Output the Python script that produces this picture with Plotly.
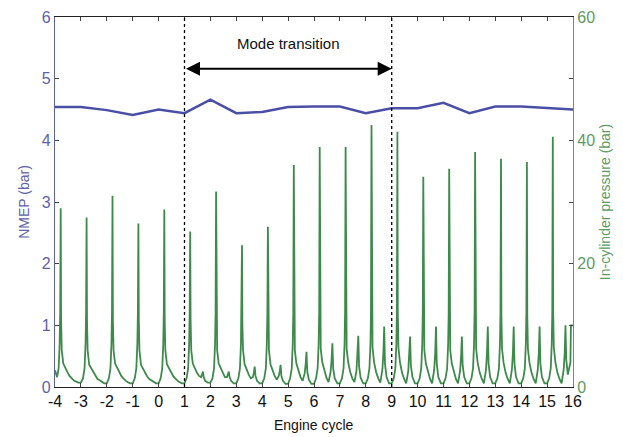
import plotly.graph_objects as go

# ---------------- data ----------------
cycles = list(range(-4, 17))
nmep = [4.54, 4.54, 4.49, 4.41, 4.50, 4.44, 4.66, 4.44, 4.46, 4.54, 4.55,
        4.55, 4.44, 4.52, 4.52, 4.61, 4.44, 4.55, 4.55, 4.52, 4.50]

# sample positions inside each engine cycle (fraction of a cycle)
cycle_offsets = [0.00, 0.08, 0.14, 0.18, 0.20, 0.22, 0.235, 0.26, 0.32, 0.40,
                 0.48, 0.56, 0.64, 0.68, 0.71, 0.74, 0.80, 0.90]

# in-cylinder pressure (bar) at those positions, one row per cycle -4 .. 15
p_m4 = [2.7, 1.6, 3.0, 7.0, 12.0, 29.0, 11.0, 6.0, 3.8, 3.0, 2.4, 1.8, 1.4, 1.2, 1.1, 1.0, 0.9, 0.7]
p_m3 = [0.7, 1.4, 3.0, 7.0, 12.0, 27.5, 11.0, 6.0, 3.6, 3.0, 2.3, 1.7, 1.3, 1.2, 1.1, 1.0, 0.8, 0.6]
p_m2 = [0.6, 1.4, 3.0, 7.0, 12.0, 31.0, 11.0, 6.0, 3.8, 3.1, 2.3, 1.8, 1.4, 1.2, 1.1, 1.0, 0.8, 0.6]
p_m1 = [0.6, 1.4, 3.0, 7.0, 12.0, 26.5, 11.0, 6.0, 3.6, 2.9, 2.2, 1.7, 1.3, 1.2, 1.1, 1.0, 0.8, 0.6]
p_0 = [0.6, 1.4, 3.0, 7.0, 12.0, 28.8, 11.0, 6.0, 3.7, 3.0, 2.3, 1.8, 1.4, 1.2, 1.1, 1.0, 0.8, 0.6]
p_1 = [0.6, 1.4, 3.0, 7.0, 12.0, 25.2, 11.0, 6.0, 3.8, 3.0, 2.3, 1.8, 1.6, 2.0, 2.5, 1.6, 1.0, 0.7]
p_2 = [0.7, 1.4, 3.0, 7.0, 12.0, 31.7, 11.0, 6.0, 3.8, 3.0, 2.3, 1.6, 1.6, 2.0, 2.5, 1.6, 1.0, 0.6]
p_3 = [0.6, 1.4, 3.0, 7.0, 12.0, 23.0, 10.0, 6.0, 3.7, 2.8, 2.0, 1.4, 1.6, 2.4, 3.3, 1.8, 1.0, 0.6]
p_4 = [0.6, 1.4, 3.0, 7.0, 12.0, 26.0, 11.0, 6.0, 3.7, 2.6, 1.8, 1.2, 1.8, 2.6, 3.6, 1.8, 1.0, 0.5]
p_5 = [0.5, 1.4, 3.0, 7.0, 12.0, 36.0, 11.0, 6.0, 3.8, 2.5, 1.6, 1.0, 2.2, 3.8, 5.7, 2.5, 1.2, 0.5]
p_6 = [0.5, 1.4, 3.0, 7.0, 12.0, 38.9, 11.5, 6.2, 4.0, 2.5, 1.5, 0.8, 2.4, 4.5, 7.1, 3.0, 1.4, 0.6]
p_7 = [0.6, 1.4, 3.0, 7.0, 12.0, 38.9, 11.5, 6.2, 4.0, 2.4, 1.4, 0.8, 2.6, 5.0, 8.3, 3.4, 1.5, 0.6]
p_8 = [0.6, 1.4, 3.0, 7.0, 12.0, 42.5, 12.0, 6.4, 4.0, 2.4, 1.4, 0.7, 2.8, 5.5, 9.8, 3.8, 1.6, 0.6]
p_9 = [0.6, 1.4, 3.0, 7.0, 12.0, 41.4, 12.0, 6.4, 4.0, 2.3, 1.3, 0.6, 2.6, 5.0, 8.2, 3.5, 1.6, 0.6]
p_10 = [0.6, 1.4, 3.0, 7.0, 12.0, 34.1, 11.0, 6.0, 3.8, 2.3, 1.3, 0.6, 2.8, 5.5, 9.8, 3.8, 1.6, 0.6]
p_11 = [0.6, 1.4, 3.0, 7.0, 12.0, 35.4, 11.0, 6.0, 3.8, 2.3, 1.3, 0.6, 2.6, 5.0, 8.2, 3.5, 1.6, 0.6]
p_12 = [0.6, 1.4, 3.0, 7.0, 12.0, 38.1, 11.5, 6.2, 3.9, 2.3, 1.3, 0.6, 2.8, 5.5, 9.8, 3.8, 1.6, 0.6]
p_13 = [0.6, 1.4, 3.0, 7.0, 12.0, 37.0, 11.5, 6.2, 3.9, 2.3, 1.3, 0.6, 2.8, 5.5, 9.8, 3.8, 1.6, 0.6]
p_14 = [0.6, 1.4, 3.0, 7.0, 12.0, 36.5, 11.5, 6.2, 3.9, 2.3, 1.3, 0.6, 2.8, 5.5, 9.8, 3.8, 1.6, 0.6]
p_15 = [0.6, 1.4, 3.0, 7.0, 12.0, 40.6, 12.0, 6.4, 4.0, 2.3, 1.3, 0.6, 2.8, 5.5, 10.0, 4.4, 2.0, 4.0]
pressure_rows = [p_m4, p_m3, p_m2, p_m1, p_0, p_1, p_2, p_3, p_4, p_5,
                 p_6, p_7, p_8, p_9, p_10, p_11, p_12, p_13, p_14, p_15]
tail_x = [15.92, 16.0]
tail_p = [10.0, 10.0]

transition_start = 1
transition_end = 9
x_ticks = list(range(-4, 17))
x_labels = [str(v) for v in x_ticks]          # plain hyphen minus, as in the source
left_ticks = [0, 1, 2, 3, 4, 5, 6]
right_ticks = [0, 10, 20, 30, 40, 50, 60]
right_labels = ["0", "", "20", "", "40", "", "60"]

# ---------------- build trace ----------------
px, py = [], []
for c, row in zip(range(-4, 16), pressure_rows):
    for o, v in zip(cycle_offsets, row):
        px.append(c + o)
        py.append(v)
px += tail_x
py += tail_p

BLUE = "#4a4fa6"
GREEN = "#3d8a4b"
BLUE_TXT = "#5e62a8"
GREEN_TXT = "#5f9a62"
FONT = "Liberation Sans, Arial, sans-serif"

fig = go.Figure()
fig.add_trace(go.Scatter(x=px, y=py, yaxis="y2", mode="lines",
                         line=dict(color=GREEN, width=1.8), showlegend=False))
fig.add_trace(go.Scatter(x=cycles, y=nmep, mode="lines",
                         line=dict(color=BLUE, width=2.5), showlegend=False))

for xv in (transition_start, transition_end):
    fig.add_shape(type="line", x0=xv, x1=xv, y0=0, y1=6, xref="x", yref="y",
                  line=dict(color="black", width=1.3, dash="dot"))

fig.add_annotation(x=transition_end, y=5.16, ax=transition_start, ay=5.16,
                   xref="x", yref="y", axref="x", ayref="y", text="",
                   showarrow=True, arrowhead=2, arrowside="end+start",
                   arrowsize=1.4, arrowwidth=2, arrowcolor="black")
fig.add_annotation(x=(transition_start + transition_end) / 2, y=5.57,
                   xref="x", yref="y", text="Mode transition", showarrow=False,
                   font=dict(size=15, color="#111111", family=FONT))
# x-axis title placed below tick labels
fig.add_annotation(x=0.5, y=-0.103, xref="paper", yref="paper",
                   text="Engine cycle", showarrow=False, yanchor="middle",
                   font=dict(size=14, color="#111111", family=FONT))

fig.update_layout(
    width=623, height=437,
    margin=dict(l=55, r=50, t=17, b=50, autoexpand=False),
    paper_bgcolor="white", plot_bgcolor="white",
    font=dict(family=FONT, size=15, color="#111111"),
    xaxis=dict(range=[-4, 16], tickvals=x_ticks, ticktext=x_labels,
               ticks="inside", ticklen=4, automargin=False,
               showline=True, linecolor="#222222", linewidth=1.2,
               mirror="ticks", showgrid=False, zeroline=False,
               tickfont=dict(size=16, color="#111111")),
    yaxis=dict(range=[0, 6], tickvals=left_ticks, ticks="inside", ticklen=4,
               showline=True, linecolor=BLUE_TXT, linewidth=1.2,
               showgrid=False, zeroline=False, automargin=False,
               tickfont=dict(size=16, color=BLUE_TXT),
               title=dict(text="NMEP (bar)", standoff=8,
                          font=dict(size=14, color=BLUE_TXT))),
    yaxis2=dict(range=[0, 60], tickvals=right_ticks, ticktext=right_labels,
                overlaying="y", side="right", ticks="inside", ticklen=4,
                showline=True, linecolor=GREEN_TXT, linewidth=1.2,
                showgrid=False, zeroline=False, automargin=False,
                tickfont=dict(size=16, color=GREEN_TXT),
                title=dict(text="In-cylinder pressure (bar)", standoff=6,
                           font=dict(size=14, color=GREEN_TXT))),
)

fig.write_html("out.html")
